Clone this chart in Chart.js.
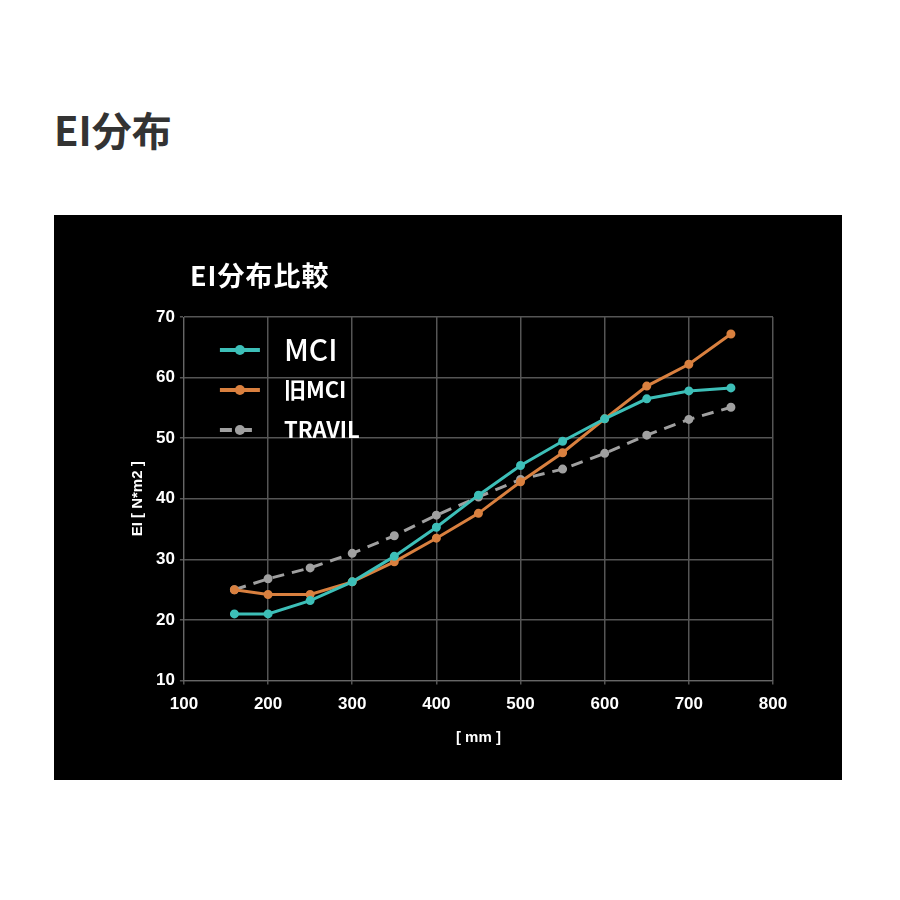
<!DOCTYPE html>
<html><head><meta charset="utf-8">
<script src="https://cdn.jsdelivr.net/npm/chart.js@4"></script>
<style>
body{margin:0;background:#fff;font-family:"Noto Sans CJK JP",sans-serif;}
h1{position:absolute;left:54px;top:100px;margin:0;font-size:40px;color:#333;font-weight:bold;}
#panel{position:absolute;left:54px;top:215px;width:788px;height:565px;background:#000;}
#t{position:absolute;left:136px;top:40px;color:#fff;font-size:27px;font-weight:bold;letter-spacing:1px;}
canvas{position:absolute;left:0;top:0;}
</style></head><body>
<h1>EI分布</h1>
<div id="panel"><canvas id="c" width="788" height="565"></canvas><div id="t">EI分布比較</div></div>
<script>
const xs = [160, 200, 250, 300, 350, 400, 450, 500, 550, 600, 650, 700, 750];
const mci = [21, 21, 23.2, 26.3, 30.5, 35.3, 40.6, 45.5, 49.5, 53.2, 56.5, 57.8, 58.3];
const oldMci = [25, 24.2, 24.2, 26.3, 29.6, 33.5, 37.6, 42.8, 47.6, 53.2, 58.6, 62.2, 67.2];
const travil = [25, 26.8, 28.6, 31, 33.9, 37.3, 40.3, 43.2, 44.9, 47.5, 50.5, 53.1, 55.1];
const names = ['MCI', '旧MCI', 'TRAVIL'];
const colors = ['#3dbfb8', '#d9803f', '#a0a0a0'];

const pts = arr => arr.map((v, i) => ({x: xs[i], y: v}));

// legend drawn inside the plot, line + dot like the original
const legendPlugin = {
    id: 'innerLegend',
    afterDraw(chart) {
        const ctx = chart.ctx, a = chart.chartArea;
        ctx.save();
        names.forEach((n, i) => {
            const y = a.top + 33 + i * 40, x0 = a.left + 36;
            ctx.strokeStyle = colors[i];
            ctx.lineWidth = 4;
            ctx.setLineDash(i == 2 ? [12, 8] : []);
            ctx.beginPath(); ctx.moveTo(x0, y); ctx.lineTo(x0 + 40, y); ctx.stroke();
            ctx.setLineDash([]);
            ctx.fillStyle = colors[i];
            ctx.beginPath(); ctx.arc(x0 + 20, y, 5, 0, Math.PI * 2); ctx.fill();
            ctx.fillStyle = '#fff';
            ctx.font = (i == 0 ? '500 30px' : 'bold 22px') + ' "Noto Sans CJK JP", sans-serif';
            ctx.textBaseline = 'middle';
            ctx.fillText(n, x0 + 64, y);
        });
        ctx.restore();
    }
};

const mk = (label, arr, i) => ({
    label, data: pts(arr), borderColor: colors[i], backgroundColor: colors[i],
    borderWidth: 3, pointRadius: 3, borderDash: i == 2 ? [12, 8] : [], tension: 0
});

new Chart(document.getElementById('c'), {
    type: 'line',
    data: {datasets: [mk(names[0], mci, 0), mk(names[1], oldMci, 1), mk(names[2], travil, 2)]},
    plugins: [legendPlugin],
    options: {
        responsive: false, animation: false,
        layout: {padding: {left: 71, right: 69, top: 102, bottom: 29}},
        scales: {
            x: {type: 'linear', min: 100, max: 800,
                ticks: {stepSize: 100, padding: 10, color: '#fff', font: {size: 17, weight: 'bold', family: 'Liberation Sans'}},
                grid: {color: '#555', lineWidth: 1.5, tickLength: 4}, border: {color: '#666'},
                title: {display: true, text: '[ mm ]', color: '#fff', padding: {top: 4}, font: {size: 15, weight: 'bold'}}},
            y: {min: 10, max: 70,
                ticks: {stepSize: 10, padding: 5, color: '#fff', font: {size: 17, weight: 'bold', family: 'Liberation Sans'}},
                grid: {color: '#555', lineWidth: 1.5, tickLength: 4}, border: {color: '#666'},
                title: {display: true, text: 'EI [ N*m2 ]', color: '#fff', font: {size: 15, weight: 'bold'}}}
        },
        plugins: {legend: {display: false}, title: {display: false}}
    }
});
</script>
</body></html>
